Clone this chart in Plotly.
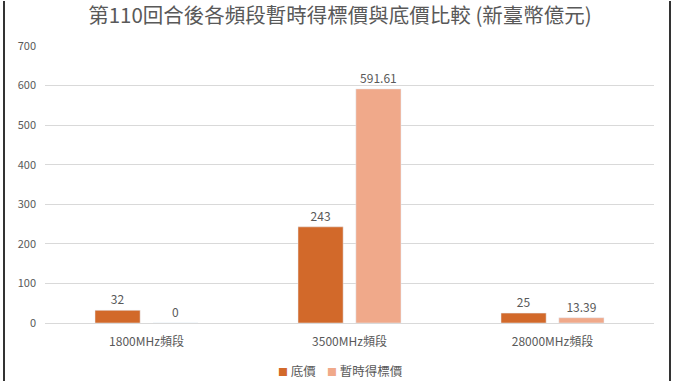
import plotly.graph_objects as go

categories = ["1800MHz頻段", "3500MHz頻段", "28000MHz頻段"]
reserve_price = [32, 243, 25]
provisional_bid = [0, 591.61, 13.39]
reserve_labels = ["32", "243", "25"]
bid_labels = ["0", "591.61", "13.39"]
y_ticks = [0, 100, 200, 300, 400, 500, 600, 700]
series_names = ["底價", "暫時得標價"]
series_colors = ["#D2692A", "#F0A98A"]

FONT = "Noto Sans CJK TC"
GRAY = "#595959"

W, H = 680, 382
L, R, T, B = 45, 26, 46, 59
pw, ph = W - L - R, H - T - B

fig = go.Figure()
fig.add_trace(go.Bar(
    x=categories, y=reserve_price, name=series_names[0],
    marker=dict(color=series_colors[0]),
    text=reserve_labels, textposition="outside",
    textfont=dict(size=12, color=GRAY, family=FONT),
    cliponaxis=False,
))
fig.add_trace(go.Bar(
    x=categories, y=provisional_bid, name=series_names[1],
    marker=dict(color=series_colors[1]),
    text=bid_labels, textposition="outside",
    textfont=dict(size=12, color=GRAY, family=FONT),
    cliponaxis=False,
))

def px_x(p):
    return (p - L) / pw

def px_y(p):
    return (H - B - p) / ph

legend_text = (f"<span style='color:{series_colors[0]};font-size:10px'>■</span> {series_names[0]}"
               f"    <span style='color:{series_colors[1]};font-size:10px'>■</span> {series_names[1]}")

fig.update_layout(
    width=W, height=H,
    margin=dict(l=L, r=R, t=T, b=B, autoexpand=False),
    paper_bgcolor="white", plot_bgcolor="white",
    barmode="group", bargap=0.43, bargroupgap=0.22,
    font=dict(family=FONT, color=GRAY),
    title=dict(text="第110回合後各頻段暫時得標價與底價比較 (新臺幣億元)",
               xref="container", x=0.5, xanchor="center",
               yref="container", y=1 - 16 / H, yanchor="middle",
               font=dict(size=20.5, color=GRAY, family=FONT)),
    showlegend=False,
    annotations=[dict(text=legend_text, xref="paper", yref="paper",
                      x=px_x(340), y=px_y(370), xanchor="center", yanchor="middle",
                      showarrow=False,
                      font=dict(size=12.5, color=GRAY, family=FONT))],
    xaxis=dict(showgrid=False, showline=True, linecolor="#D9D9D9",
               tickfont=dict(size=12, color=GRAY, family=FONT), ticks="",
               ticklabelstandoff=8, automargin=False),
    yaxis=dict(range=[0, 700], tickvals=y_ticks, showgrid=True,
               gridcolor="#D9D9D9", zeroline=False, showline=False,
               tickfont=dict(size=11, color=GRAY, family=FONT), ticks="",
               ticklabelstandoff=8, automargin=False),
    shapes=[
        dict(type="line", xref="paper", yref="paper",
             x0=px_x(4), x1=px_x(4), y0=px_y(381), y1=px_y(1),
             line=dict(color="#333333", width=2)),
        dict(type="line", xref="paper", yref="paper",
             x0=px_x(670), x1=px_x(670), y0=px_y(381), y1=px_y(1),
             line=dict(color="#333333", width=2)),
    ],
)

fig.write_html("out.html", config={"displayModeBar": False},
               post_script="document.body.style.margin='0';document.body.style.overflow='hidden';")
